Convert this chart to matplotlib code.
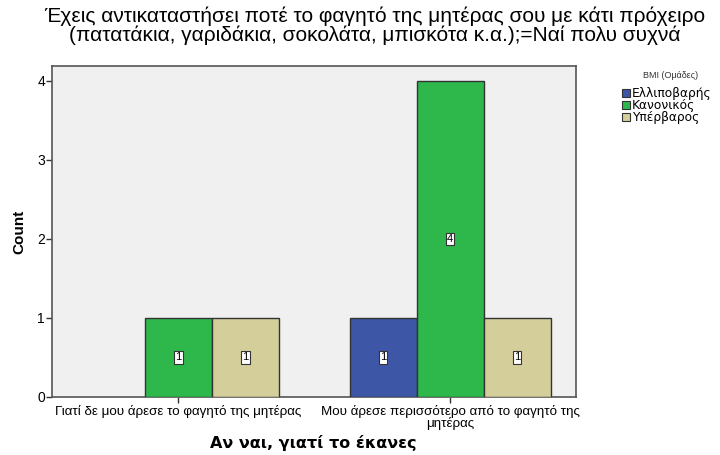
import matplotlib
matplotlib.use("Agg")
import matplotlib.pyplot as plt
import matplotlib.patches as mpatches
import numpy as np

plt.rcParams['font.family'] = ['Liberation Sans', 'DejaVu Sans']

categories = ["Γιατί δε μου άρεσε το φαγητό της μητέρας",
              "Μου άρεσε περισσότερο από το φαγητό της\nμητέρας"]
series_names = ["Ελλιποβαρής", "Κανονικός", "Υπέρβαρος"]
values = {
    "Ελλιποβαρής": [0, 1],
    "Κανονικός": [1, 4],
    "Υπέρβαρος": [1, 1],
}
colors = {"Ελλιποβαρής": "#3D56A6", "Κανονικός": "#2EB84C", "Υπέρβαρος": "#D4CF9A"}
title = ("Έχεις αντικαταστήσει ποτέ το φαγητό της μητέρας σου με κάτι πρόχειρο\n"
         "(πατατάκια, γαριδάκια, σοκολάτα, μπισκότα κ.α.);=Ναί πολυ συχνά")
legend_title = "BMI (Ομάδες)"
x_title = "Αν ναι, γιατί το έκανες"
y_title = "Count"

W, H = 720, 455
fig = plt.figure(figsize=(7.2, 4.55), dpi=100)
ax = fig.add_axes([52/W, 1-397/H, (576-52)/W, (397-65.7)/H])
ax.set_facecolor("#F0F0F0")

w = 0.2466
x = np.arange(len(categories))
offsets = {"Ελλιποβαρής": -w, "Κανονικός": 0.0, "Υπέρβαρος": w}
for s in series_names:
    for i in range(len(categories)):
        v = values[s][i]
        if v == 0:
            continue
        xc = x[i] + offsets[s]
        ax.bar(xc, v, width=w, color=colors[s], edgecolor="#333333", linewidth=1.0, zorder=3)
        ax.text(xc, v/2, str(v), ha="center", va="center", fontsize=8, zorder=4,
                bbox=dict(boxstyle="square,pad=0.12", fc="white", ec="#333333", lw=0.8))

ax.set_xlim(-0.465, 1.4637)
ax.set_ylim(0, 4.19)
ax.set_yticks([0, 1, 2, 3, 4])
ax.set_xticks(x)
ax.set_xticklabels(categories, fontsize=9.6, linespacing=0.85)
ax.tick_params(axis='y', labelsize=10, length=4, width=1, color="#333333", pad=1)
ax.tick_params(axis='x', length=4, width=1, color="#333333", pad=2)
for sp in ax.spines.values():
    sp.set_color("#555555")
    sp.set_linewidth(1.2)

fig.text(19/W, 1-232/H, y_title, rotation=90, ha="center", va="center",
         fontsize=11, fontweight="bold")
fig.text(313/W, 1-443/H, x_title, ha="center", va="center",
         fontsize=11.5, fontweight="bold", family=["DejaVu Sans"])

fig.text(375/W, 1-26/H, title, ha="center", va="center", fontsize=15, linespacing=0.95)

# legend
fig.text(671/W, 1-75/H, legend_title, ha="center", va="center", fontsize=6.5, color="#333333")
for k, s in enumerate(series_names):
    yc = 93 + k * 12
    fig.add_artist(mpatches.Rectangle((622/W, 1-(yc+4)/H), 8/W, 8/H,
                                      transform=fig.transFigure, facecolor=colors[s],
                                      edgecolor="#333333", linewidth=0.8))
    fig.text(632/W, 1-yc/H, s, ha="left", va="center", fontsize=8.8,
             family=["DejaVu Sans"])

fig.savefig("out.png", dpi=100)
